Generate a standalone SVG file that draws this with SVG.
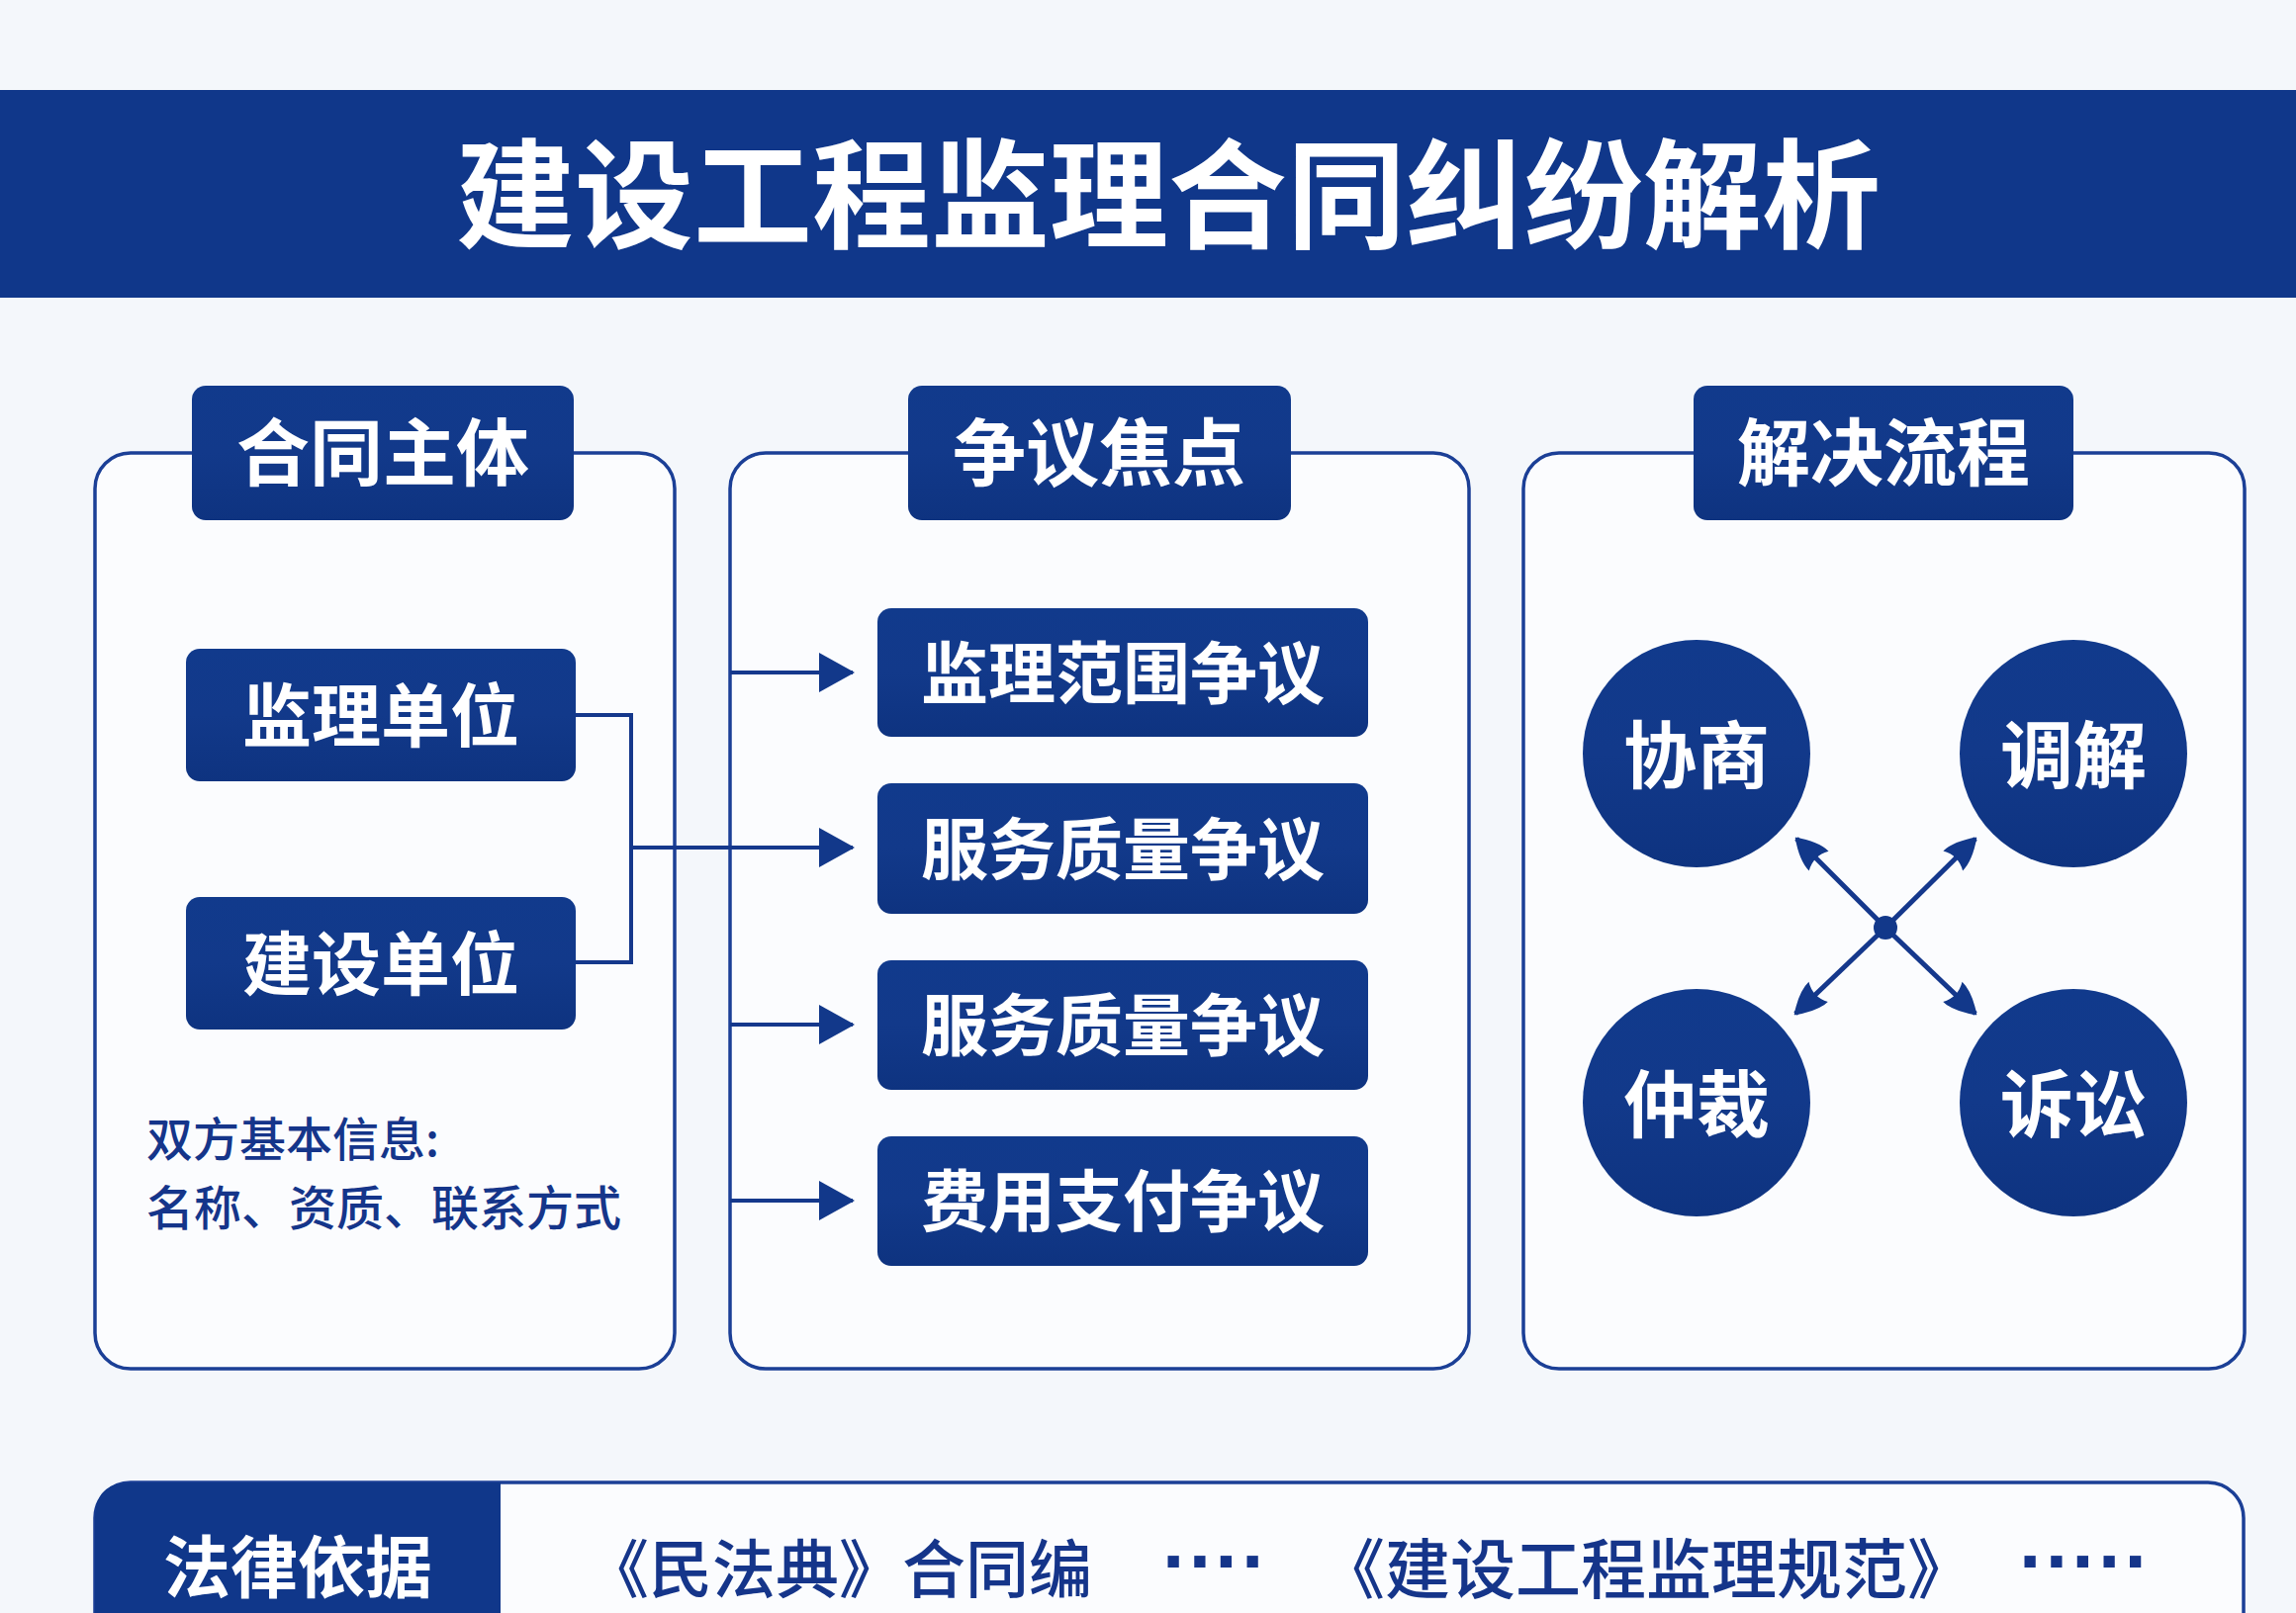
<svg xmlns="http://www.w3.org/2000/svg" width="2321" height="1631" viewBox="0 0 2321 1631">
<style>
.panel{fill:#fbfcfe;stroke:#1b3f96;stroke-width:3.5}
.box{fill:url(#navy)}
.wt{fill:#ffffff;font-family:"Noto Sans CJK SC","Noto Sans",sans-serif;font-weight:700;text-anchor:middle;dominant-baseline:central}
.nt{fill:#15358a;font-family:"Noto Sans CJK SC","Noto Sans",sans-serif;font-weight:500}
.line{fill:none;stroke:#15388c;stroke-width:4}
.dots{fill:#15358a;font-family:"Liberation Sans",sans-serif;font-weight:700;font-size:80px;dominant-baseline:central}
</style>
<defs>
<linearGradient id="navy" x1="0" y1="0" x2="0" y2="1">
<stop offset="0" stop-color="#113a8c"/>
<stop offset="0.5" stop-color="#12398a"/>
<stop offset="1" stop-color="#0e3380"/>
</linearGradient>
<marker id="tri" viewBox="0 0 36 44" refX="34" refY="22" markerWidth="36" markerHeight="44" markerUnits="userSpaceOnUse" orient="auto">
<path d="M0,2 L36,22 L0,42 Z" fill="#12388a"/>
</marker>
<marker id="spade" viewBox="0 0 36 32" refX="34" refY="16" markerWidth="36" markerHeight="32" markerUnits="userSpaceOnUse" orient="auto">
<path d="M36,16 Q16,2 2,2 Q10,16 2,30 Q16,30 36,16 Z" fill="#12388a"/>
</marker>
</defs>
<rect x="0" y="0" width="2321" height="1631" fill="#f4f7fb"/>

<g id="header">
<rect x="0" y="91" width="2321" height="210" fill="#10378a"/>
<text class="wt" x="1181" y="190" font-size="120" font-weight="900">建设工程监理合同纠纷解析</text>
</g>

<g id="panel-subject">
<rect class="panel" x="96" y="458" width="586" height="926" rx="36"/>
<rect class="box" x="194" y="390" width="386" height="136" rx="14"/>
<text class="wt" x="387" y="452" font-size="74">合同主体</text>
</g>
<g id="node-jianli">
<rect class="box" x="188" y="656" width="394" height="134" rx="14"/>
<text class="wt" x="385" y="719" font-size="70">监理单位</text>
</g>
<g id="node-jianshe">
<rect class="box" x="188" y="907" width="394" height="134" rx="14"/>
<text class="wt" x="385" y="970" font-size="70">建设单位</text>
</g>
<g id="info">
<text class="nt" x="148" y="1148" font-size="47" dominant-baseline="central">双方基本信息:</text>
<text class="nt" x="148" y="1218" font-size="48" dominant-baseline="central">名称、资质、联系方式</text>
</g>

<g id="panel-focus">
<rect class="panel" x="738" y="458" width="747" height="926" rx="36"/>
<rect class="box" x="918" y="390" width="387" height="136" rx="14"/>
<text class="wt" x="1111" y="452" font-size="74">争议焦点</text>
</g>
<g id="node-f1">
<rect class="box" x="887" y="615" width="496" height="130" rx="14"/>
<text class="wt" x="1135" y="676" font-size="68">监理范围争议</text>
</g>
<g id="node-f2">
<rect class="box" x="887" y="792" width="496" height="132" rx="14"/>
<text class="wt" x="1135" y="854" font-size="68">服务质量争议</text>
</g>
<g id="node-f3">
<rect class="box" x="887" y="971" width="496" height="131" rx="14"/>
<text class="wt" x="1135" y="1032" font-size="68">服务质量争议</text>
</g>
<g id="node-f4">
<rect class="box" x="887" y="1149" width="496" height="131" rx="14"/>
<text class="wt" x="1135" y="1210" font-size="68">费用支付争议</text>
</g>

<g id="panel-process">
<rect class="panel" x="1540" y="458" width="729" height="926" rx="36"/>
<rect class="box" x="1712" y="390" width="384" height="136" rx="14"/>
<text class="wt" x="1904" y="452" font-size="74">解决流程</text>
</g>
<g id="node-xieshang">
<circle cx="1715" cy="762" r="115" fill="url(#navy)"/>
<text class="wt" x="1715" y="758" font-size="74">协商</text>
</g>
<g id="node-tiaojie">
<circle cx="2096" cy="762" r="115" fill="url(#navy)"/>
<text class="wt" x="2096" y="758" font-size="74">调解</text>
</g>
<g id="node-zhongcai">
<circle cx="1715" cy="1115" r="115" fill="url(#navy)"/>
<text class="wt" x="1715" y="1111" font-size="74">仲裁</text>
</g>
<g id="node-susong">
<circle cx="2096" cy="1115" r="115" fill="url(#navy)"/>
<text class="wt" x="2096" y="1111" font-size="74">诉讼</text>
</g>

<g id="connectors">
<path class="line" d="M582,723 H638 V973 H582"/>
<path class="line" d="M638,857 H862" marker-end="url(#tri)"/>
<path class="line" d="M738,680 H862" marker-end="url(#tri)"/>
<path class="line" d="M738,1036 H862" marker-end="url(#tri)"/>
<path class="line" d="M738,1214 H862" marker-end="url(#tri)"/>
<path class="line" style="stroke-width:5" d="M1906,938 L1816,848" marker-end="url(#spade)"/>
<path class="line" style="stroke-width:5" d="M1906,938 L1997,848" marker-end="url(#spade)"/>
<path class="line" style="stroke-width:5" d="M1906,938 L1815,1025" marker-end="url(#spade)"/>
<path class="line" style="stroke-width:5" d="M1906,938 L1997,1025" marker-end="url(#spade)"/>
<circle cx="1906" cy="938" r="12" fill="#12388a"/>
</g>

<g id="legal">
<rect x="96" y="1499" width="2172" height="200" rx="36" fill="#fbfcfe" stroke="#1b3f96" stroke-width="3.5"/>
<path d="M96,1535 Q96,1499 132,1499 H506 V1631 H96 Z" fill="#10378a"/>
<text class="wt" x="301" y="1580" font-size="68">法律依据</text>
<text class="nt" x="592" y="1582" font-size="64" font-weight="700" dominant-baseline="central">《民法典》合同编</text>
<text class="dots" x="1175" y="1578">····</text>
<text class="nt" x="1334" y="1582" font-size="66" font-weight="700" dominant-baseline="central">《建设工程监理规范》</text>
<text class="dots" x="2041" y="1578">·····</text>
</g>
</svg>
